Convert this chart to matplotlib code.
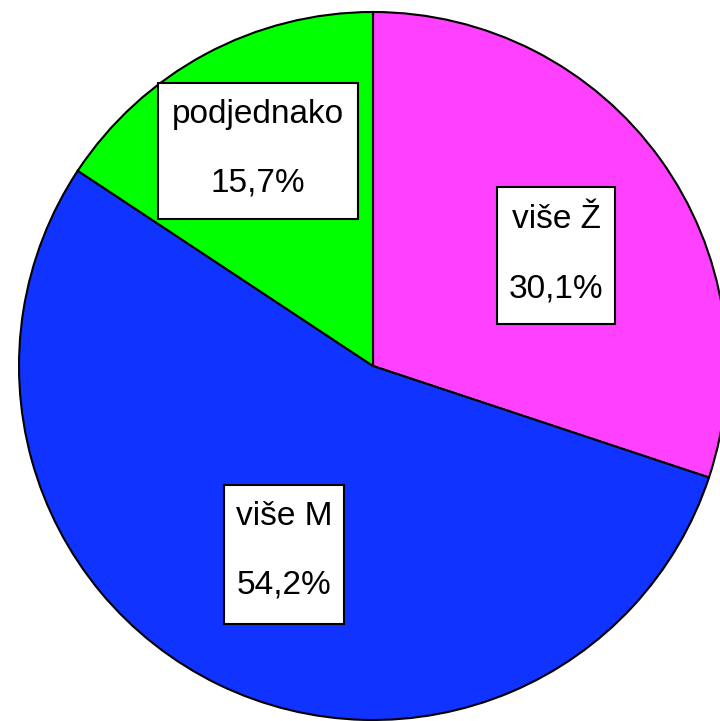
import matplotlib.pyplot as plt
from matplotlib.patches import Rectangle

# data
labels = ["više Ž", "više M", "podjednako"]
shares = [30.1, 54.2, 15.7]
colors = ["#FF40FF", "#1133FF", "#00FF00"]

W, H = 720, 721


def flip(y):
    # picture rows (from top) to axis y
    return H - y


fig = plt.figure(figsize=(7.2, 7.21), dpi=100)
ax = fig.add_axes([0, 0, 1, 1])

ax.pie(shares, colors=colors, startangle=90, counterclock=False,
       center=(373, flip(366)), radius=354, frame=True,
       wedgeprops=dict(edgecolor="black", linewidth=1.5))
ax.set_xlim(0, W)
ax.set_ylim(0, H)
ax.set_aspect("auto")
ax.axis("off")

# label boxes: left, top, right, bottom, baseline1, baseline2 (pixels)
boxes = [
    (497, 187, 615, 324, 228, 297),
    (224, 485, 344, 624, 525, 593),
    (158, 83, 358, 219, 123, 192),
]

for name, val, (x0, y0, x1, y1, b1, b2) in zip(labels, shares, boxes):
    ax.add_patch(Rectangle((x0, flip(y1)), x1 - x0, y1 - y0,
                           facecolor="white", edgecolor="black",
                           linewidth=1.5, zorder=5))
    cx = (x0 + x1) / 2
    ax.text(cx, flip(b1), name, ha="center", va="baseline",
            fontsize=24, family="Liberation Sans", zorder=6)
    ax.text(cx, flip(b2), f"{val:.1f}%".replace(".", ","), ha="center",
            va="baseline", fontsize=24, family="Liberation Sans", zorder=6)

plt.savefig("out.png", dpi=100)
